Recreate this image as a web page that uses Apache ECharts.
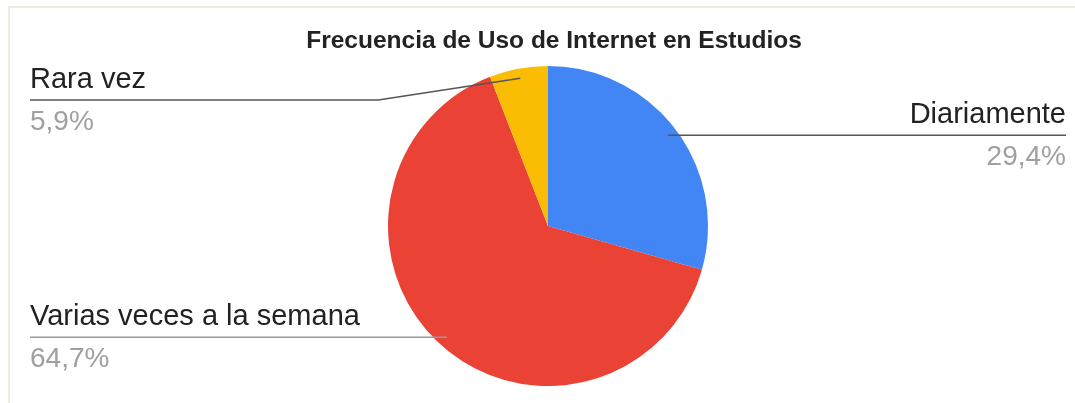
<!DOCTYPE html>
<html>
<head>
<meta charset="utf-8">
<title>Frecuencia de Uso de Internet en Estudios</title>
<script src="https://cdn.jsdelivr.net/npm/echarts@6/dist/echarts.min.js"></script>
<style>
  html, body { margin: 0; padding: 0; background: #ffffff; }
  #frame {
    position: absolute; left: 8px; top: 6px; width: 1100px; height: 420px;
    border-top: 2px solid #efece2; border-left: 2px solid #efece2;
  }
  #chart { position: absolute; left: 0; top: 0; width: 1075px; height: 403px; }
</style>
</head>
<body>
<div id="frame"></div>
<div id="chart"></div>
<script>
// Survey answers and their share of respondents (%)
const titleText = 'Frecuencia de Uso de Internet en Estudios';
const categories = ['Diariamente', 'Varias veces a la semana', 'Rara vez'];
const shares = [29.4, 64.7, 5.9];
const sliceColors = ['#4285F4', '#EA4335', '#FBBC04'];
const leaderColors = ['#555555', '#9a9a9a', '#555555'];

// Pie geometry and label placement
const CX = 548, CY = 226, R = 160;
const LEFT_EDGE = 30, RIGHT_EDGE = 1066, LABEL_MIN_Y = 100;
const LEADER_RUN = 142;
const NAME_BOX = 40, PCT_BOX = 44;
const FONT = '"Liberation Sans", Arial, sans-serif';

function fmtPct(p) { return p.toFixed(1).replace('.', ',') + '%'; }

// Which side of the pie a slice's label sits on (clockwise from 12 o'clock)
const total = shares.reduce((a, b) => a + b, 0);
const onRight = shares.map((v, i) => {
  const before = shares.slice(0, i).reduce((a, b) => a + b, 0);
  return (before + v / 2) / total < 0.5;
});

const pieBase = {
  type: 'pie',
  center: [CX, CY],
  radius: R,
  startAngle: 90,
  clockwise: true,
  avoidLabelOverlap: false
};

const chart = echarts.init(document.getElementById('chart'), null, { renderer: 'canvas' });

chart.setOption({
  backgroundColor: 'transparent',
  animation: false,
  title: {
    text: titleText,
    left: 549,
    top: 24,
    textAlign: 'center',
    textStyle: { fontFamily: FONT, fontWeight: 'bold', fontSize: 24.5, color: '#222222' }
  },
  series: [
    // the coloured slices
    Object.assign({}, pieBase, {
      z: 2,
      data: categories.map((name, i) => ({
        name: name,
        value: shares[i],
        itemStyle: { color: sliceColors[i] }
      })),
      label: { show: false },
      labelLine: { show: false }
    }),
    // same slices, unfilled, carrying the labels so their leaders run over the pie
    Object.assign({}, pieBase, {
      z: 3,
      silent: true,
      data: categories.map((name, i) => ({
        name: name,
        value: shares[i],
        itemStyle: { color: 'rgba(0,0,0,0)', borderWidth: 0 },
        labelLine: { lineStyle: { color: leaderColors[i], width: 1.5, opacity: 1 } }
      })),
      label: {
        show: true,
        position: 'outside',
        formatter: function (p) {
          const s = onRight[p.dataIndex] ? 'R' : 'L';
          return '{name' + s + '|' + p.name + '}\n{pct' + s + '|' + fmtPct(p.percent) + '}';
        },
        rich: {
          nameL: { fontFamily: FONT, fontSize: 29, color: '#222222', lineHeight: NAME_BOX, align: 'left' },
          pctL:  { fontFamily: FONT, fontSize: 28, color: '#a0a0a0', lineHeight: PCT_BOX, align: 'left' },
          nameR: { fontFamily: FONT, fontSize: 29, color: '#222222', lineHeight: NAME_BOX, align: 'right' },
          pctR:  { fontFamily: FONT, fontSize: 28, color: '#a0a0a0', lineHeight: PCT_BOX, align: 'right' }
        }
      },
      labelLine: { show: true, length: 20, length2: 20, smooth: false },
      labelLayout: function (p) {
        const pts = p.labelLinePoints;
        if (!pts) return {};
        const ex = pts[0][0], ey = pts[0][1];
        // leader starts slightly inside the slice
        const sx = CX + (ex - CX) * 0.94;
        const sy = CY + (ey - CY) * 0.94;
        const right = ex > CX;
        const lineY = Math.max(sy, LABEL_MIN_Y);
        const endX = right ? RIGHT_EDGE : LEFT_EDGE;
        let bendX = sx;
        if (Math.abs(lineY - sy) > 1) bendX = sx + (right ? 1 : -1) * LEADER_RUN;
        return {
          x: endX,
          y: lineY - NAME_BOX,
          align: right ? 'right' : 'left',
          verticalAlign: 'top',
          labelLinePoints: [[sx, sy], [bendX, lineY], [endX, lineY]]
        };
      }
    })
  ]
});
</script>
</body>
</html>
